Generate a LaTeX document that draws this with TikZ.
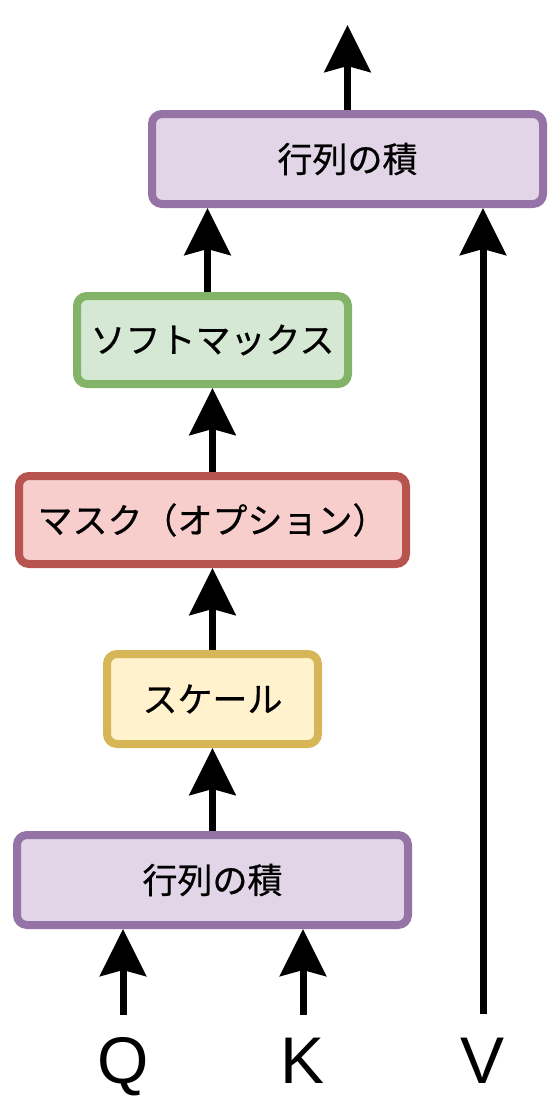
\documentclass[tikz,border=0pt]{standalone}
\usepackage{fontspec}
\setmainfont{Liberation Sans}
\newfontfamily\jpfont[FakeBold=0.6]{Noto Sans CJK JP}
\usepackage{tikz}
\usetikzlibrary{arrows.meta, calc}
\definecolor{purpleF}{HTML}{E1D5E7}
\definecolor{purpleD}{HTML}{9673A6}
\definecolor{greenF}{HTML}{D5E8D4}
\definecolor{greenD}{HTML}{82B366}
\definecolor{redF}{HTML}{F8CECC}
\definecolor{redD}{HTML}{B85450}
\definecolor{yellowF}{HTML}{FFF2CC}
\definecolor{yellowD}{HTML}{D6B656}
\tikzstyle{block} = [rectangle, rounded corners=10pt, line width=8pt, minimum height=90pt, text centered, font=\jpfont\fontsize{35}{40}\selectfont]
\tikzstyle{matmul} = [block, draw=purpleD, fill=purpleF, minimum width=391pt]
\tikzstyle{softbox} = [block, draw=greenD, fill=greenF, minimum width=271pt, minimum height=88pt]
\tikzstyle{maskbox} = [block, draw=redD, fill=redF, minimum width=387pt, minimum height=88pt]
\tikzstyle{scalebox} = [block, draw=yellowD, fill=yellowF, minimum width=211pt]
\tikzstyle{arrow} = [line width=7pt, -{Stealth[length=47pt, width=46pt, inset=6pt]}]
\tikzstyle{inlabel} = [anchor=base, inner sep=0pt, font=\fontsize{66}{70}\selectfont]

\begin{document}
\begin{tikzpicture}[x=1pt, y=-1pt]
\useasboundingbox (0,0) rectangle (560,1104);

% blocks, bottom to top
\node (mm1) [matmul] at (212.5,880) {行列の積};
\node (scale) [scalebox] at (212.5,699) {スケール};
\node (mask) [maskbox] at (212.5,520) {マスク（オプション）};
\node (soft) [softbox] at (212.5,340) {ソフトマックス};
\node (mm2) [matmul] at (347.5,159) {行列の積};

% inputs and output
\node (q) [inlabel] at (123,1083) {Q};
\node (k) [inlabel] at (303,1083) {K};
\node (v) [inlabel] at (483,1083) {V};
\coordinate (qtail) at (123,1015);
\coordinate (ktail) at (303,1015);
\coordinate (vtail) at (483,1014);
\coordinate (out) at (347.5,25);

% arrows
\draw [arrow] (qtail) -- (qtail |- mm1.south);
\draw [arrow] (ktail) -- (ktail |- mm1.south);
\draw [arrow] (mm1) -- (scale);
\draw [arrow] (scale) -- (mask);
\draw [arrow] (mask) -- (soft);
\draw [arrow] ([xshift=-5pt]soft.north) -- ([xshift=-5pt]soft.north |- mm2.south);
\draw [arrow] (vtail) -- (vtail |- mm2.south);
\draw [arrow] (mm2) -- (out);

\end{tikzpicture}
\end{document}
